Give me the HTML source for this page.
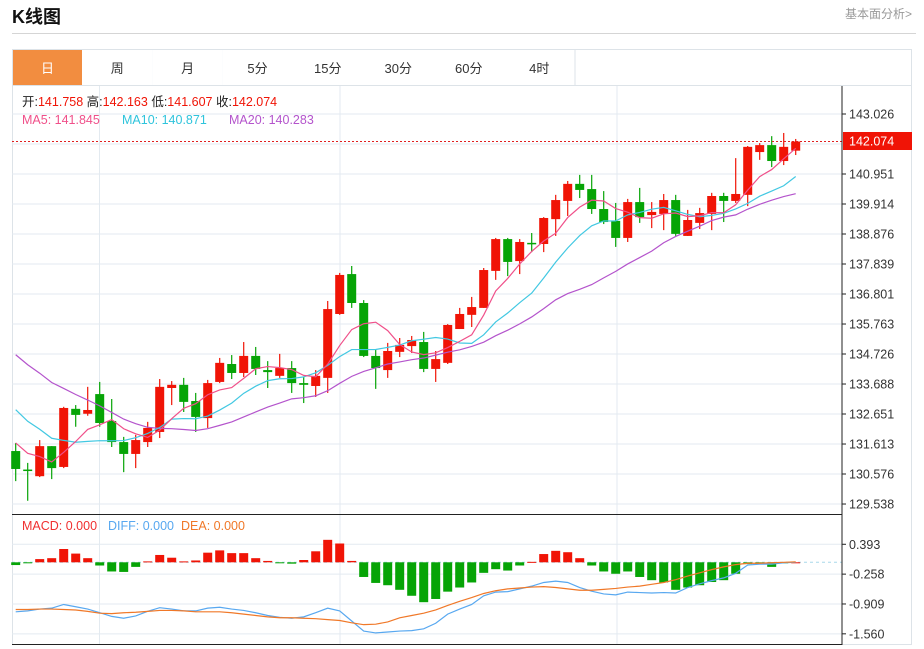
<!DOCTYPE html>
<html><head><meta charset="utf-8">
<style>
body{margin:0;background:#fff;width:924px;height:649px;overflow:hidden;font-family:"Liberation Sans","Noto Sans CJK SC",sans-serif;}
.abs{position:absolute;}
</style></head>
<body>
<div class="abs" style="left:12px;top:3px;font-size:18px;font-weight:bold;color:#111;">K线图</div>
<div class="abs" style="left:845px;top:5px;font-size:12px;color:#999;">基本面分析&gt;</div>
<div class="abs" style="left:12px;top:33px;width:904px;height:1px;background:#d5d5d5;"></div>
<svg class="abs" style="left:0;top:0" width="924" height="649" id="chart" font-family="Liberation Sans, Noto Sans CJK SC, sans-serif">
  <rect x="12.5" y="49.5" width="899" height="595" fill="none" stroke="#dde3e8"/>
  <g id="tabs"></g>
  <g id="grid"></g>
  <g id="main"></g>
  <g id="macd"></g>
  <g id="axes"></g>
  <g id="labels"></g>
</svg>
<script>
const tabNames=["日","周","月","5分","15分","30分","60分","4时"];
const opens=[131.37,130.73,130.50,131.54,130.82,132.83,132.66,133.34,132.41,131.68,131.27,131.68,132.03,133.55,133.66,133.10,132.51,133.76,134.38,134.07,134.66,134.17,133.97,134.24,133.72,133.62,133.90,136.11,137.49,136.49,134.66,134.17,134.80,135.00,135.14,134.21,134.42,135.59,136.08,136.32,137.60,138.70,137.94,138.57,138.53,139.39,140.02,140.61,140.43,139.74,139.33,138.74,139.98,139.53,139.57,140.05,138.81,139.26,139.57,140.19,140.02,140.23,141.71,141.95,141.40,141.758];
const highs=[131.65,130.96,131.75,131.54,132.90,132.96,133.59,133.76,133.17,131.86,131.93,132.38,133.86,133.79,133.90,133.38,133.83,134.59,134.69,135.14,134.97,134.48,134.73,134.48,133.93,134.17,136.56,137.53,137.77,136.59,134.87,135.11,135.28,135.35,135.49,134.83,135.76,136.32,136.70,137.70,138.74,138.74,138.70,138.91,139.46,140.23,140.71,140.92,140.92,140.36,139.95,140.09,140.47,139.98,140.26,140.23,139.71,139.78,140.30,140.30,141.50,141.92,142.02,142.26,142.37,142.163];
const lows=[130.33,129.65,130.47,130.40,130.78,132.21,132.59,132.21,131.51,130.64,130.78,131.51,131.82,132.96,132.72,132.03,132.17,133.72,133.86,133.93,134.00,133.55,133.90,133.38,133.03,133.24,133.38,136.08,136.32,134.62,133.52,133.90,134.62,134.76,134.10,133.76,134.38,135.59,135.66,136.32,137.29,137.42,137.49,138.25,138.25,138.81,139.50,140.12,139.57,139.22,138.43,138.60,139.26,139.08,139.01,138.81,138.81,139.05,139.01,139.29,139.95,139.84,141.44,141.19,141.26,141.607];
const closes=[130.75,130.70,131.54,130.78,132.86,132.62,132.79,132.34,131.68,131.27,131.75,132.17,133.59,133.66,133.07,132.55,133.72,134.42,134.07,134.66,134.21,134.10,134.24,133.72,133.66,133.97,136.28,137.46,136.49,134.66,134.24,134.83,135.04,135.21,134.21,134.55,135.73,136.11,136.35,137.63,138.70,137.91,138.60,138.53,139.43,140.05,140.61,140.40,139.74,139.29,138.74,139.98,139.46,139.64,140.05,138.88,139.36,139.60,140.19,140.02,140.26,141.89,141.95,141.40,141.89,142.074];
const prevCloses=[137.6,137.4,137.2,137.0,136.8,136.6,136.4,136.2,135.9,134.9,134.7,134.3,133.9,133.6,133.25,132.5,132.1,131.7,131.2];
const macdHist=[-0.06,-0.02,0.07,0.09,0.29,0.19,0.09,-0.07,-0.20,-0.21,-0.10,0.02,0.16,0.10,0.02,0.04,0.21,0.26,0.20,0.20,0.09,0.03,-0.01,-0.03,0.05,0.24,0.49,0.41,0.03,-0.32,-0.45,-0.50,-0.60,-0.73,-0.87,-0.80,-0.64,-0.55,-0.44,-0.23,-0.15,-0.18,-0.07,0.01,0.18,0.25,0.22,0.09,-0.07,-0.20,-0.25,-0.20,-0.32,-0.39,-0.44,-0.60,-0.55,-0.50,-0.43,-0.39,-0.25,-0.04,-0.04,-0.10,-0.02,0.00];
const diffVals=[-1.08,-1.06,-1.02,-1.00,-0.92,-0.97,-1.02,-1.10,-1.18,-1.22,-1.17,-1.07,-0.99,-1.02,-1.06,-1.06,-1.00,-0.98,-1.02,-1.05,-1.10,-1.16,-1.20,-1.22,-1.19,-1.10,-1.00,-1.06,-1.28,-1.50,-1.54,-1.52,-1.50,-1.49,-1.45,-1.33,-1.13,-1.02,-0.92,-0.73,-0.65,-0.64,-0.58,-0.52,-0.44,-0.41,-0.44,-0.55,-0.63,-0.69,-0.71,-0.65,-0.66,-0.67,-0.66,-0.67,-0.55,-0.47,-0.40,-0.34,-0.24,-0.06,-0.04,-0.04,-0.01,0.00];
const deaVals=[-1.03,-1.03,-1.02,-1.02,-1.03,-1.04,-1.07,-1.11,-1.12,-1.10,-1.09,-1.07,-1.05,-1.05,-1.06,-1.08,-1.08,-1.08,-1.10,-1.13,-1.16,-1.19,-1.21,-1.21,-1.22,-1.23,-1.25,-1.27,-1.32,-1.36,-1.35,-1.30,-1.21,-1.16,-1.11,-1.04,-0.94,-0.85,-0.77,-0.68,-0.62,-0.58,-0.56,-0.54,-0.53,-0.55,-0.58,-0.61,-0.61,-0.59,-0.57,-0.54,-0.52,-0.48,-0.44,-0.38,-0.30,-0.23,-0.16,-0.10,-0.05,-0.02,-0.02,-0.01,0.00,0.01];
const priceTicks=[143.026,140.951,139.914,138.876,137.839,136.801,135.763,134.726,133.688,132.651,131.613,130.576,129.538];
const macdTicks=[0.393,-0.258,-0.909,-1.560];

const NS="http://www.w3.org/2000/svg";
function mk(tag,attrs,parent,text){const e=document.createElementNS(NS,tag);for(const k in attrs)e.setAttribute(k,attrs[k]);if(text!==undefined)e.textContent=text;parent.appendChild(e);return e;}
const RED="#f01406",GREEN="#06a406";
const X=i=>15.7+12*i;
const Y=v=>114+(143.026-v)*28.916;
const MY=v=>562.3-v*45.85;
const gT=document.getElementById('tabs'),gG=document.getElementById('grid'),gM=document.getElementById('main'),gD=document.getElementById('macd'),gA=document.getElementById('axes'),gL=document.getElementById('labels');

// tabs
const tabEdges=[13,82,152.6,222.6,292.5,363,433.5,504,574.5];
mk('line',{x1:12,y1:85.5,x2:912,y2:85.5,stroke:'#dde3e8'},gT);
tabNames.forEach((t,i)=>{
  const x0=tabEdges[i],x1=tabEdges[i+1];
  const r=mk('rect',{x:x0,y:50,width:x1-x0,height:35,fill:i===0?'#f28d40':'#fff'},gT);
  
  
  mk('line',{x1:x1+0.5,y1:50,x2:x1+0.5,y2:85,stroke:'#dde3e8'},gT);
  const tx=mk('text',{x:(x0+x1)/2,y:73,'text-anchor':'middle','font-size':13,fill:i===0?'#fff':'#333'},gT,t);
  
  
});

// grid
priceTicks.concat([141.989]).forEach(v=>mk('line',{x1:12,x2:842,y1:Y(v),y2:Y(v),stroke:'#e3eaf0'},gG));
macdTicks.forEach(v=>mk('line',{x1:12,x2:842,y1:MY(v),y2:MY(v),stroke:'#e3eaf0'},gG));
[99.5,340,617].forEach(x=>mk('line',{x1:x,x2:x,y1:86,y2:644,stroke:'#e3eaf0'},gG));

// candles
opens.forEach((o,i)=>{
  const c=closes[i],col=c>=o?RED:GREEN,x=X(i);
  const w=mk('line',{x1:x,x2:x,y1:Y(highs[i]),y2:Y(lows[i]),stroke:col,'stroke-width':1.2},gM);
  
  
  const top=Y(Math.max(o,c)),bot=Y(Math.min(o,c));
  const b=mk('rect',{x:x-4.5,y:top,width:9,height:Math.max(1.5,bot-top),fill:col},gM);
  
  
});
// MAs
const all=prevCloses.concat(closes);
function ma(n){return closes.map((_,i)=>{const j=i+prevCloses.length;let s=0;for(let k=j-n+1;k<=j;k++)s+=all[k];return s/n;});}
[[20,'#b454cc','ma20-line'],[10,'#42c8e2','ma10-line'],[5,'#f0508a','ma5-line']].forEach(([n,col,name])=>{
  const pts=ma(n).map((v,i)=>X(i)+','+Y(v)).join(' ');
  const p=mk('polyline',{points:pts,fill:'none',stroke:col,'stroke-width':1.2},gM);
  
  
});
// last price line
const lastY=Y(closes[closes.length-1]);
mk('line',{x1:12,x2:842,y1:lastY,y2:lastY,stroke:'#e02020','stroke-dasharray':'2,2'},gM);

// MACD
mk('line',{x1:12,x2:842,y1:MY(0),y2:MY(0),stroke:'#a8d8ea','stroke-dasharray':'3,3'},gD);
macdHist.forEach((v,i)=>{
  const y0=MY(0),y1=MY(v);
  const r=mk('rect',{x:X(i)-4.5,y:Math.min(y0,y1),width:9,height:Math.max(1,Math.abs(y1-y0)),fill:v>=0?RED:GREEN},gD);
  
  
});
const dl=mk('polyline',{points:diffVals.map((v,i)=>X(i)+','+MY(v)).join(' '),fill:'none',stroke:'#58a8f0','stroke-width':1.2},gD);


const el2=mk('polyline',{points:deaVals.map((v,i)=>X(i)+','+MY(v)).join(' '),fill:'none',stroke:'#f07828','stroke-width':1.2},gD);



// axes
mk('line',{x1:842,x2:842,y1:86,y2:645,stroke:'#222'},gA);
mk('line',{x1:12,x2:842,y1:514.5,y2:514.5,stroke:'#222'},gA);
mk('line',{x1:12,x2:842,y1:644.5,y2:644.5,stroke:'#222'},gA);
priceTicks.forEach(v=>{
  mk('line',{x1:842,x2:846,y1:Y(v),y2:Y(v),stroke:'#222'},gA);
  const t=mk('text',{x:849,y:Y(v)+4.5,'font-size':12.5,fill:'#333'},gA,v.toFixed(3));
  
  
});
macdTicks.forEach(v=>{
  mk('line',{x1:842,x2:846,y1:MY(v),y2:MY(v),stroke:'#222'},gA);
  const t=mk('text',{x:849,y:MY(v)+4.5,'font-size':12.5,fill:'#333'},gA,v.toFixed(3));
  
  
});
mk('rect',{x:843,y:132,width:69,height:18,fill:'#f01406'},gA);
const tg=mk('text',{x:849,y:145.5,'font-size':12.5,fill:'#fff'},gA,closes[closes.length-1].toFixed(3));



// info labels
function info(x,y,parts,name){const t=mk('text',{x:x,y:y,'font-size':12.5},gL);parts.forEach(([s,c])=>mk('tspan',{fill:c},t,s));}
info(22,106,[["开:","#222"],["141.758 ","#f01406"],[" 高:","#222"],["142.163 ","#f01406"],[" 低:","#222"],["141.607 ","#f01406"],[" 收:","#222"],["142.074","#f01406"]],'ohlc-info');
info(22,124,[["MA5: 141.845","#f0508a"]],'ma5-legend');
info(122,124,[["MA10: 140.871","#2ec4dc"]],'ma10-legend');
info(229,124,[["MA20: 140.283","#b454cc"]],'ma20-legend');
info(22,530,[["MACD: 0.000","#f03030"]],'macd-legend');
info(108,530,[["DIFF: 0.000","#58a8f0"]],'diff-legend');
info(181,530,[["DEA: 0.000","#f07828"]],'dea-legend');
</script>
</body></html>
